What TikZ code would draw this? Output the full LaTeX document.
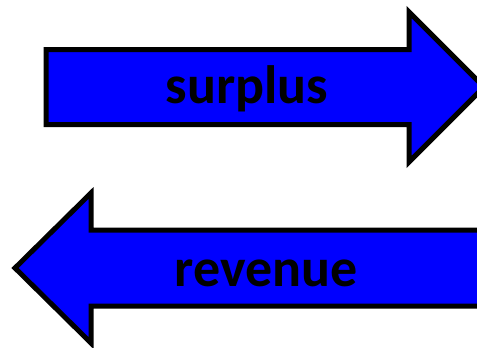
\documentclass[tikz,border=0pt]{standalone}
\usepackage{fontspec}
\setmainfont{Carlito}
\tikzset{
  blockarrow/.style={fill={rgb,255:red,0;green,0;blue,255}, draw=black, line width=5pt, line join=miter},
  lbl/.style={font=\fontsize{54}{60}\selectfont\bfseries, text=black, inner sep=0pt, anchor=base}
}
\begin{document}
\begin{tikzpicture}[x=1pt,y=-1pt]
\useasboundingbox (0,0) rectangle (477,348);
\clip (0,0) rectangle (477,348);
\draw[blockarrow] (46,49.5) -- (409,49.5) -- (409,12) -- (484,87) -- (409,162) -- (409,124.5) -- (46,124.5) -- cycle;
\draw[blockarrow] (15,268) -- (91,193) -- (91,230) -- (495,230) -- (495,306) -- (91,306) -- (91,343) -- cycle;
\node[lbl] (surplus) at (247,103) {surplus};
\node[lbl] (revenue) at (266,286) {revenue};
\end{tikzpicture}
\end{document}
